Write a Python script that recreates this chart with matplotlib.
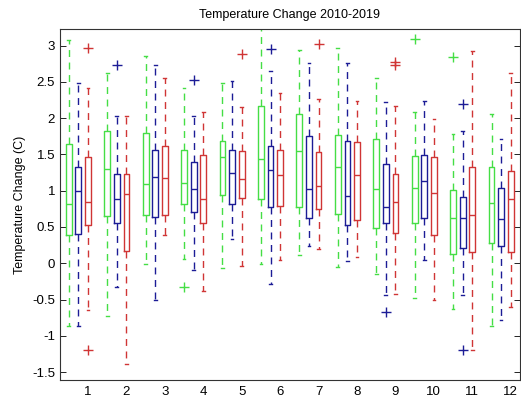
import numpy as np
import matplotlib
matplotlib.use('Agg')
import matplotlib.pyplot as plt

plt.rcParams['font.family'] = ['Liberation Sans', 'DejaVu Sans']

months = np.arange(1, 13)
tick_labels = [str(m) for m in months]

# green series
g_lo  = [-0.86, -0.73, -0.01, 0.06, -0.06, -0.01, 0.12, -0.05, -0.15, -0.48, -0.63, -0.86]
g_q1  = [0.39, 0.65, 0.67, 0.82, 0.94, 0.88, 0.78, 0.68, 0.49, 0.55, 0.13, 0.28]
g_med = [0.82, 1.30, 1.09, 1.10, 1.46, 1.44, 1.55, 1.33, 1.03, 1.04, 0.63, 0.83]
g_q3  = [1.64, 1.83, 1.79, 1.56, 1.69, 2.17, 2.06, 1.77, 1.72, 1.48, 1.01, 1.33]
g_hi  = [3.08, 2.63, 2.86, 2.42, 2.49, 3.35, 2.94, 2.97, 2.55, 2.09, 1.78, 2.06]
g_out = [[], [], [], [-0.33], [], [], [], [], [], [3.09], [2.85], []]

# blue series
b_lo  = [-0.86, -0.33, -0.51, -0.09, 0.33, -0.28, 0.24, 0.03, -0.44, 0.04, -0.44, -0.78]
b_q1  = [0.40, 0.55, 0.64, 0.70, 0.82, 0.78, 0.63, 0.53, 0.55, 0.63, 0.21, 0.24]
b_med = [1.00, 0.89, 1.19, 1.02, 1.24, 1.28, 1.03, 0.93, 0.78, 1.14, 0.62, 0.61]
b_q3  = [1.33, 1.23, 1.56, 1.39, 1.56, 1.62, 1.76, 1.68, 1.37, 1.49, 0.92, 1.04]
b_hi  = [2.49, 2.03, 2.74, 2.03, 2.51, 2.65, 2.76, 2.76, 2.22, 2.24, 1.82, 1.72]
b_out = [[], [2.73], [], [2.52], [], [2.95], [], [], [-0.67], [], [2.20, -1.20], []]

# red series
r_lo  = [-0.64, -1.39, 0.39, -0.38, -0.04, 0.05, 0.19, 0.09, -0.42, -0.50, -1.20, -0.61]
r_q1  = [0.53, 0.17, 0.67, 0.55, 0.90, 0.79, 0.75, 0.60, 0.42, 0.39, 0.16, 0.15]
r_med = [0.85, 0.95, 1.17, 0.89, 1.16, 1.21, 1.06, 1.22, 0.85, 0.97, 0.67, 0.89]
r_q3  = [1.46, 1.23, 1.62, 1.49, 1.55, 1.56, 1.53, 1.67, 1.23, 1.47, 1.33, 1.27]
r_hi  = [2.41, 2.03, 2.56, 2.08, 2.16, 2.35, 2.26, 2.24, 2.17, 1.99, 2.93, 2.63]
r_out = [[2.97, -1.20], [], [], [], [2.89], [], [3.02], [], [2.77, 2.74], [], [], []]

series = [
    ('#45de45', -0.5, g_lo, g_q1, g_med, g_q3, g_hi, g_out),
    ('#1c1c96', -0.25, b_lo, b_q1, b_med, b_q3, b_hi, b_out),
    ('#d03535', 0.0, r_lo, r_q1, r_med, r_q3, r_hi, r_out),
]

fig = plt.figure(figsize=(5.21, 4.0), dpi=100)
ax = fig.add_axes([0.115, 0.05, 0.883, 0.8775])

for color, off, lo, q1, med, q3, hi, out in series:
    stats = []
    for i in range(12):
        stats.append({'whislo': lo[i], 'q1': q1[i], 'med': med[i], 'q3': q3[i],
                      'whishi': hi[i], 'fliers': out[i]})
    ax.bxp(stats, positions=months + off, widths=0.15, capwidths=0.07,
           manage_ticks=False,
           boxprops=dict(color=color, lw=1.0),
           medianprops=dict(color=color, lw=1.0),
           whiskerprops=dict(color=color, lw=1.0, ls=(0, (5, 4))),
           capprops=dict(color=color, lw=1.0),
           flierprops=dict(marker='+', markeredgecolor=color, markersize=6.5,
                           markeredgewidth=1.0, linestyle='none'))

ax.set_xlim(0.27, 12.24)
ax.set_ylim(-1.61, 3.23)
ax.set_xticks(months)
ax.set_xticklabels(tick_labels)
ax.set_yticks(np.arange(-1.5, 3.01, 0.5))
ax.set_yticklabels(['-1.5', '-1', '-0.5', '0', '0.5', '1', '1.5', '2', '2.5', '3'])
ax.tick_params(axis='x', length=0, labelsize=9.5, pad=4)
ax.tick_params(axis='y', direction='in', length=4, right=True, labelsize=9.5, width=0.6)
for s in ax.spines.values():
    s.set_linewidth(0.8)
    s.set_color('#333333')
ax.set_title('Temperature Change 2010-2019', fontsize=9, pad=8)
ax.set_ylabel('Temperature Change (C)', fontsize=9)

fig.savefig('out.png', dpi=100)
